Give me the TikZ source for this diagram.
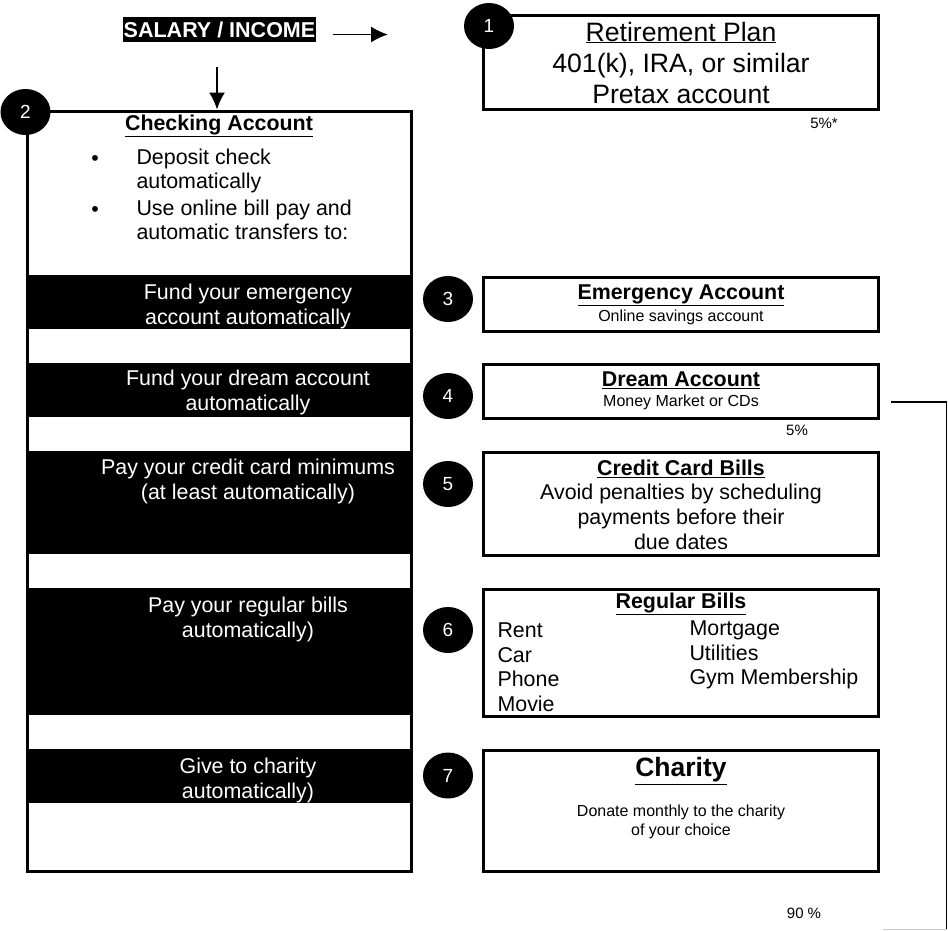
\documentclass[tikz,border=0pt]{standalone}
\usepackage{fontspec}
\setmainfont{Liberation Sans}
\usetikzlibrary{arrows.meta,shapes.geometric}

\begin{document}
\begin{tikzpicture}[x=1pt,y=-1pt,>={Latex[length=17pt,width=16pt]},
	box/.style={draw,line width=3pt,inner sep=0pt},
	band/.style={fill=black,inner sep=0pt,minimum width=383.5pt},
	numdot/.style={ellipse,fill=black,text=white,inner sep=0pt,minimum width=50pt,minimum height=46pt,font=\fontsize{19}{19}\selectfont},
	whitetext/.style={text=white,align=center,font=\fontsize{21.4}{25}\selectfont},
	head/.style={font=\bfseries\fontsize{21.4}{24}\selectfont},
	body/.style={align=center,font=\fontsize{21.4}{25}\selectfont},
	listtext/.style={align=left,font=\fontsize{21.4}{24.5}\selectfont},
	small/.style={align=center,font=\fontsize{16}{19}\selectfont},
	pct/.style={font=\fontsize{15}{16}\selectfont}]
		\useasboundingbox (0,0) rectangle (948,930);
		
		% the income and its arrows
		\node[fill=black,text=white,font=\bfseries\fontsize{21.5}{21.5}\selectfont,inner xsep=1pt,minimum height=25pt] (sal) at (219.5,29.5) {SALARY / INCOME};
		\coordinate (salA) at (333,34.5);
		\coordinate (salB) at (388,34.5);
		\coordinate (salD) at (217,67);
		
		% the retirement plan
		\node[box,minimum width=395.5pt,minimum height=94pt,align=center,font=\fontsize{26.6}{31}\selectfont] (ret) at (681,62.5) {\underline{Retirement Plan}\\401(k), IRA, or similar\\Pretax account};
		\node[pct] (retpct) at (824,123) {5\%*};
		
		% the checking account with its black bands
		\node[box,minimum width=383.5pt,minimum height=760.5pt] (check) at (219.25,491.25) {};
		\node[band,minimum height=54pt] (band1) at (219.25,302) {};
		\node[band,minimum height=54pt] (band2) at (219.25,390) {};
		\node[band,minimum height=103pt] (band3) at (219.25,502.5) {};
		\node[band,minimum height=127pt] (band4) at (219.25,651.5) {};
		\node[band,minimum height=54pt] (band5) at (219.25,776) {};
		\node[head] (checkT) at (219,126) {\underline{Checking Account}};
		\node[body] (dot1) at (95,160) {\textbullet};
		\node[body] (dot2) at (95,211) {\textbullet};
		\node[listtext,anchor=west] (chk1) at (133,171) {Deposit check\\automatically};
		\node[listtext,anchor=west] (chk2) at (133,220) {Use online bill pay and\\automatic transfers to:};
		\node[whitetext] (fund1) at (248,306) {Fund your emergency\\account automatically};
		\node[whitetext] (fund2) at (248,392) {Fund your dream account\\automatically};
		\node[whitetext] (fund3) at (248,481) {Pay your credit card minimums\\(at least automatically)};
		\node[whitetext] (fund4) at (248,619) {Pay your regular bills\\automatically)};
		\node[whitetext] (fund5) at (248,780) {Give to charity\\automatically)};
		
		% the accounts on the right
		\node[box,minimum width=394.5pt,minimum height=54pt] (emer) at (681,304.5) {};
		\node[head] (emerT) at (681,295) {\underline{Emergency Account}};
		\node[small] (emerS) at (681,317) {Online savings account};
		
		\node[box,minimum width=394.5pt,minimum height=54pt] (dream) at (681,391.5) {};
		\node[head] (dreamT) at (681,380) {\underline{Dream Account}};
		\node[small] (dreamS) at (681,402) {Money Market or CDs};
		\node[pct] (dreampct) at (797,430) {5\%};
		
		\node[box,minimum width=394.5pt,minimum height=102.5pt] (credit) at (681,504) {};
		\node[head] (creditT) at (681,469) {\underline{Credit Card Bills}};
		\node[body] (creditS) at (681,517) {Avoid penalties by scheduling\\payments before their\\due dates};
		
		\node[box,minimum width=394.5pt,minimum height=126.5pt] (bills) at (681,653) {};
		\node[head] (billsT) at (681,604) {\underline{Regular Bills}};
		\node[listtext,anchor=west] (billsL) at (494,667) {Rent\\Car\\Phone\\Movie};
		\node[listtext,anchor=west] (billsR) at (686,655) {Mortgage\\Utilities\\Gym Membership};
		
		\node[box,minimum width=394.5pt,minimum height=121pt] (charity) at (681,811) {};
		\node[font=\bfseries\fontsize{26.5}{30}\selectfont] (charityT) at (681,771) {\underline{Charity}};
		\node[small] (charityS) at (681,822) {Donate monthly to the charity\\of your choice};
		\node[pct] (allpct) at (804,913) {90 \%};
		
		% the arrows and the side line
		\draw[->,line width=1.8pt] (salA) -- (salB);
		\draw[->,line width=1.8pt] (salD) -- (salD |- check.north);
		\coordinate (dreamOut) at (891,402);
		\coordinate (railBot) at (946.5,929);
		\coordinate (railEnd) at (883,929);
		\draw[line width=1.5pt] (dreamOut) -| (railBot);
		\draw[gray!40,line width=1pt] (railBot) -- (railEnd);
		
		% the numbered circles
		\node[numdot] (n1) at (489,26) {1};
		\node[numdot] (n2) at (25.5,112) {2};
		\node[numdot] (n3) at (448,299) {3};
		\node[numdot] (n4) at (448,396) {4};
		\node[numdot] (n5) at (448,484) {5};
		\node[numdot] (n6) at (448,630) {6};
		\node[numdot] (n7) at (448,775.5) {7};
\end{tikzpicture}
\end{document}
